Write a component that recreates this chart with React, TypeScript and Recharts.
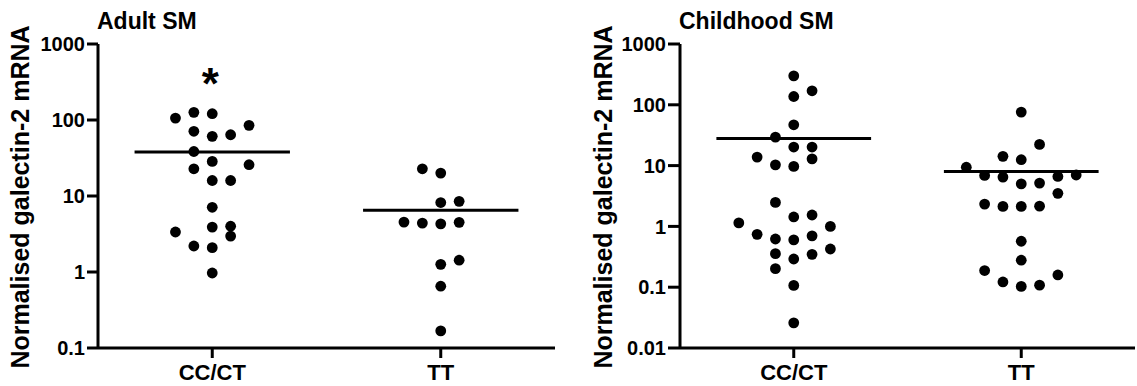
import React from 'react';
import { ScatterChart, Scatter, XAxis, YAxis, ReferenceLine, Label } from 'recharts';

const categories = ['CC/CT', 'TT'];
const adultYTicks = [0.1, 1, 10, 100, 1000];
const childYTicks = [0.01, 0.1, 1, 10, 100, 1000];

// Adult SM
const adultCCValues = [106, 126, 121, 85, 71, 61, 64, 38.5, 28.5, 25.8, 22.8, 16, 16, 7.1, 3.36, 3.9, 4.0, 2.97, 2.2, 2.09, 0.97];
const adultCCSlots = [-2, -1, 0, 2, -1, 0, 1, -1, 0, 2, -1, 0, 1, 0, -2, 0, 1, 1, -1, 0, 0];
const adultTTValues = [22.8, 20.0, 8.2, 8.5, 4.54, 4.4, 4.3, 4.5, 1.26, 1.43, 0.65, 0.168];
const adultTTSlots = [-1, 0, 0, 1, -2, -1, 0, 1, 0, 1, 0, 0];
const adultMedians = [37.8, 6.5];
const adultMarks = ['*', ''];
const adultMarkLevels = [405, 0];

// Childhood SM
const childCCValues = [299, 170, 137, 46.9, 29.4, 20.2, 20.2, 13.8, 12.9, 10.3, 9.69, 2.48, 1.43, 1.54, 1.14, 1.0, 0.74, 0.62, 0.6, 0.7, 0.425, 0.356, 0.291, 0.347, 0.202, 0.107, 0.0259];
const childCCSlots = [0, 1, 0, 0, -1, 0, 1, -2, 1, -1, 0, -1, 0, 1, -3, 2, -2, -1, 0, 1, 2, -1, 0, 1, -1, 0, 0];
const childTTValues = [75.8, 22.3, 14.2, 12.5, 9.4, 6.89, 6.47, 5.0, 5.16, 6.63, 7.0, 3.5, 2.33, 2.13, 2.13, 2.15, 0.57, 0.278, 0.188, 0.122, 0.103, 0.108, 0.159];
const childTTSlots = [0, 1, -1, 0, -3, -2, -1, 0, 1, 2, 3, 2, -2, -1, 0, 1, 0, 0, -2, -1, 0, 1, 2];
const childMedians = [27.9, 8.0];

const SLOT = 0.0805;
const HALF = 0.34;
const FONT = '"Liberation Sans", Arial, Helvetica, sans-serif';

const toPoints = (group: number, values: number[], slots: number[]) =>
  values.map((v, i) => ({ x: group + slots[i] * SLOT, y: v }));

const Dot = (props: any) => {
  const { cx, cy } = props;
  if (cx == null || cy == null) return null;
  return <circle cx={cx} cy={cy} r={5.4} fill="#000" />;
};

const Star = (props: any) => {
  const { cx, cy, payload } = props;
  if (cx == null || cy == null) return null;
  return (
    <text x={cx - 2} y={cy + 25} textAnchor="middle" fontSize={44} fontWeight="bold" fontFamily={FONT} fill="#000">
      {payload.mark}
    </text>
  );
};

const yLabel = (baseX: number) => (props: any) => {
  const vb = props.viewBox || { x: 0, y: 44, width: 100, height: 304 };
  const x = baseX;
  const y = vb.y + vb.height / 2 + 1;
  return (
    <text
      x={x}
      y={y}
      transform={`rotate(-90, ${x}, ${y})`}
      textAnchor="middle"
      fontSize={25}
      fontWeight="bold"
      fontFamily={FONT}
      fill="#000"
    >
      Normalised galectin-2 mRNA
    </text>
  );
};

type PanelProps = {
  left: number;
  width: number;
  yAxisWidth: number;
  rightMargin: number;
  title: string;
  titleLeft: number;
  yTicks: number[];
  groups: { x: number; y: number }[][];
  medians: number[];
  marks?: { x: number; y: number; mark: string }[];
  labelX: number;
  tickSize: number;
};

const Panel = ({ left, width, yAxisWidth, rightMargin, title, titleLeft, yTicks, groups, medians, marks, labelX, tickSize }: PanelProps) => (
  <div style={{ position: 'absolute', left, top: 0, width, height: 386 }}>
    <div
      style={{
        position: 'absolute',
        left: titleLeft,
        top: 6,
        fontFamily: FONT,
        fontWeight: 'bold',
        fontSize: 23,
        lineHeight: '30px',
        color: '#000',
        whiteSpace: 'nowrap',
      }}
    >
      {title}
    </div>
    <ScatterChart width={width} height={386} margin={{ top: 44, right: rightMargin, bottom: 0, left: 0 }}>
      <XAxis
        dataKey="x"
        type="number"
        domain={[-0.5, 1.5]}
        ticks={[0, 1]}
        interval={0}
        allowDataOverflow
        tickFormatter={(v: number) => categories[Math.round(v)]}
        height={38}
        tickSize={10}
        tickMargin={6}
        axisLine={{ stroke: '#000', strokeWidth: 3 }}
        tickLine={{ stroke: '#000', strokeWidth: 3 }}
        tick={{ fill: '#000', fontSize: 22, fontWeight: 'bold', fontFamily: FONT }}
      />
      <YAxis
        dataKey="y"
        type="number"
        scale="log"
        domain={[yTicks[0], yTicks[yTicks.length - 1]]}
        ticks={yTicks}
        interval={0}
        allowDataOverflow
        width={yAxisWidth}
        tickSize={tickSize}
        tickMargin={2}
        tickFormatter={(v: number) => String(v)}
        axisLine={{ stroke: '#000', strokeWidth: 3 }}
        tickLine={{ stroke: '#000', strokeWidth: 3 }}
        tick={{ fill: '#000', fontSize: 20, fontWeight: 'bold', fontFamily: FONT }}
      >
        <Label content={yLabel(labelX)} />
      </YAxis>
      {groups.map((g, i) => (
        <Scatter key={`g${i}`} data={g} shape={Dot} isAnimationActive={false} />
      ))}
      {medians.map((m, i) => (
        <ReferenceLine
          key={`m${i}`}
          segment={[
            { x: i - HALF, y: m },
            { x: i + HALF, y: m },
          ]}
          stroke="#000"
          strokeWidth={3}
        />
      ))}
      {marks && marks.length > 0 && <Scatter data={marks} shape={Star} isAnimationActive={false} />}
    </ScatterChart>
  </div>
);

export default function App() {
  const adultGroups = [toPoints(0, adultCCValues, adultCCSlots), toPoints(1, adultTTValues, adultTTSlots)];
  const childGroups = [toPoints(0, childCCValues, childCCSlots), toPoints(1, childTTValues, childTTSlots)];
  const adultMarkPoints = adultMarks
    .map((m, i) => ({ x: i, y: adultMarkLevels[i], mark: m }))
    .filter((p) => p.mark !== '');
  return (
    <div style={{ position: 'absolute', left: 0, top: 0, width: 1137, height: 386, background: '#fff', overflow: 'hidden' }}>
      <Panel
        left={0}
        width={560}
        yAxisWidth={98}
        rightMargin={5}
        title="Adult SM"
        titleLeft={97}
        yTicks={adultYTicks}
        groups={adultGroups}
        medians={adultMedians}
        marks={adultMarkPoints}
        labelX={29}
        tickSize={11}
      />
      <Panel
        left={560}
        width={577}
        yAxisWidth={120}
        rightMargin={2}
        title="Childhood SM"
        titleLeft={119}
        yTicks={childYTicks}
        groups={childGroups}
        medians={childMedians}
        labelX={52}
        tickSize={12}
      />
    </div>
  );
}
